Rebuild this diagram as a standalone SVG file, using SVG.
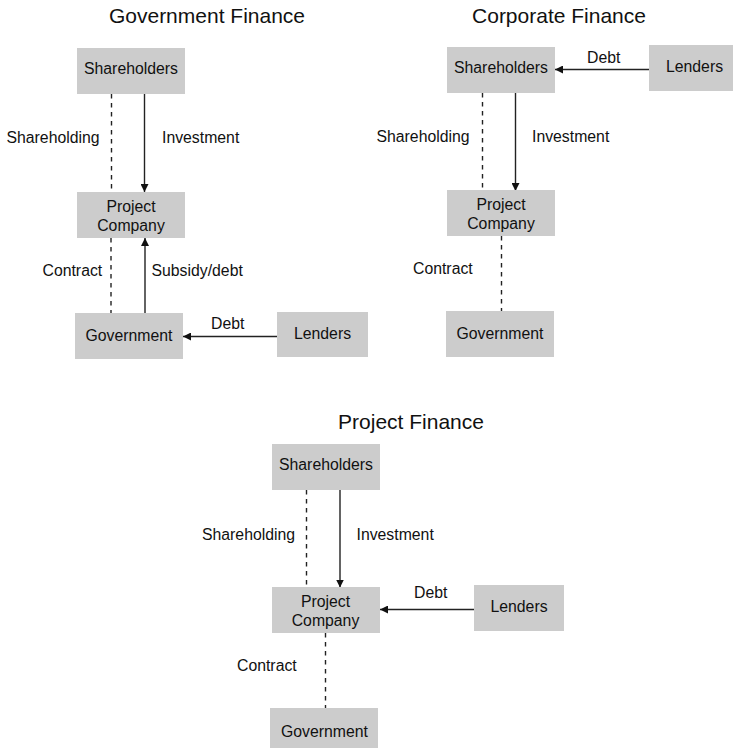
<svg xmlns="http://www.w3.org/2000/svg" width="733" height="748" viewBox="0 0 733 748">
<defs>
<marker id="ah" viewBox="0 0 10 10" refX="10" refY="5" markerWidth="8" markerHeight="8" markerUnits="userSpaceOnUse" orient="auto">
<path d="M0,0 L10,5 L0,10 Z" fill="#111"/>
</marker>
<style>
.box{fill:#cccccc;}
.t{font-family:"Liberation Sans",Arial,sans-serif;font-size:15.8px;fill:#111;}
.c{text-anchor:middle;}
.title{font-family:"Liberation Sans",Arial,sans-serif;font-size:21px;fill:#111;text-anchor:middle;}
.solid{stroke:#222;stroke-width:1.4;fill:none;marker-end:url(#ah);}
.dash{stroke:#222;stroke-width:1.4;fill:none;stroke-dasharray:4.5 4.5;}
</style>
</defs>
<rect width="733" height="748" fill="#ffffff"/>

<text class="title" x="207" y="23">Government Finance</text>
<text class="title" x="559" y="23">Corporate Finance</text>
<text class="title" x="411" y="429">Project Finance</text>

<g id="connectors">
<!-- Government Finance -->
<line class="dash" x1="111.5" y1="94" x2="111.5" y2="192"/>
<line class="solid" x1="144.5" y1="94" x2="144.5" y2="192"/>
<line class="dash" x1="111" y1="238" x2="111" y2="313"/>
<line class="solid" x1="145" y1="313" x2="145" y2="238"/>
<line class="solid" x1="277" y1="336.5" x2="183" y2="336.5"/>
<!-- Corporate Finance -->
<line class="dash" x1="482.5" y1="93" x2="482.5" y2="190"/>
<line class="solid" x1="515.5" y1="93" x2="515.5" y2="191"/>
<line class="dash" x1="501.5" y1="236" x2="501.5" y2="311"/>
<line class="solid" x1="649" y1="69.5" x2="555" y2="69.5"/>
<!-- Project Finance -->
<line class="dash" x1="306.5" y1="490" x2="306.5" y2="587"/>
<line class="solid" x1="340" y1="490" x2="340" y2="587.5"/>
<line class="dash" x1="325.5" y1="633" x2="325.5" y2="708"/>
<line class="solid" x1="474" y1="609.5" x2="380" y2="609.5"/>
</g>

<g id="labels">
<text class="t" x="6.5" y="143">Shareholding</text>
<text class="t" x="162" y="143">Investment</text>
<text class="t" x="42.5" y="276">Contract</text>
<text class="t" x="151.5" y="276">Subsidy/debt</text>
<text class="t" x="211" y="329">Debt</text>

<text class="t" x="587" y="62.5">Debt</text>
<text class="t" x="376.5" y="141.5">Shareholding</text>
<text class="t" x="532" y="141.5">Investment</text>
<text class="t" x="413" y="273.5">Contract</text>

<text class="t" x="202" y="539.5">Shareholding</text>
<text class="t" x="356.5" y="539.5">Investment</text>
<text class="t" x="414" y="597.5">Debt</text>
<text class="t" x="237" y="670.5">Contract</text>
</g>

<g id="gf-shareholders"><rect class="box" x="77" y="48" width="108" height="46"/><text class="t c" x="131" y="74">Shareholders</text></g>
<g id="gf-project"><rect class="box" x="77" y="192" width="108" height="46"/><text class="t c" x="131" y="212">Project</text><text class="t c" x="131" y="231">Company</text></g>
<g id="gf-government"><rect class="box" x="75" y="313" width="108" height="46"/><text class="t c" x="129" y="340.5">Government</text></g>
<g id="gf-lenders"><rect class="box" x="277" y="312" width="91" height="45"/><text class="t c" x="322.5" y="338.5">Lenders</text></g>

<g id="cf-shareholders"><rect class="box" x="447" y="47" width="108" height="46"/><text class="t c" x="501" y="72.5">Shareholders</text></g>
<g id="cf-lenders"><rect class="box" x="649" y="45" width="91" height="46"/><text class="t c" x="694.5" y="71.5">Lenders</text></g>
<g id="cf-project"><rect class="box" x="447" y="190" width="108" height="46"/><text class="t c" x="501" y="210">Project</text><text class="t c" x="501" y="229">Company</text></g>
<g id="cf-government"><rect class="box" x="446" y="311" width="108" height="46"/><text class="t c" x="500" y="339">Government</text></g>

<g id="pf-shareholders"><rect class="box" x="272" y="444" width="108" height="46"/><text class="t c" x="326" y="469.5">Shareholders</text></g>
<g id="pf-project"><rect class="box" x="272" y="587" width="108" height="46"/><text class="t c" x="325.5" y="606.5">Project</text><text class="t c" x="325.5" y="625.5">Company</text></g>
<g id="pf-lenders"><rect class="box" x="474" y="585" width="90" height="46"/><text class="t c" x="519" y="612">Lenders</text></g>
<g id="pf-government"><rect class="box" x="270" y="708" width="108" height="46"/><text class="t c" x="324.5" y="737">Government</text></g>
</svg>
